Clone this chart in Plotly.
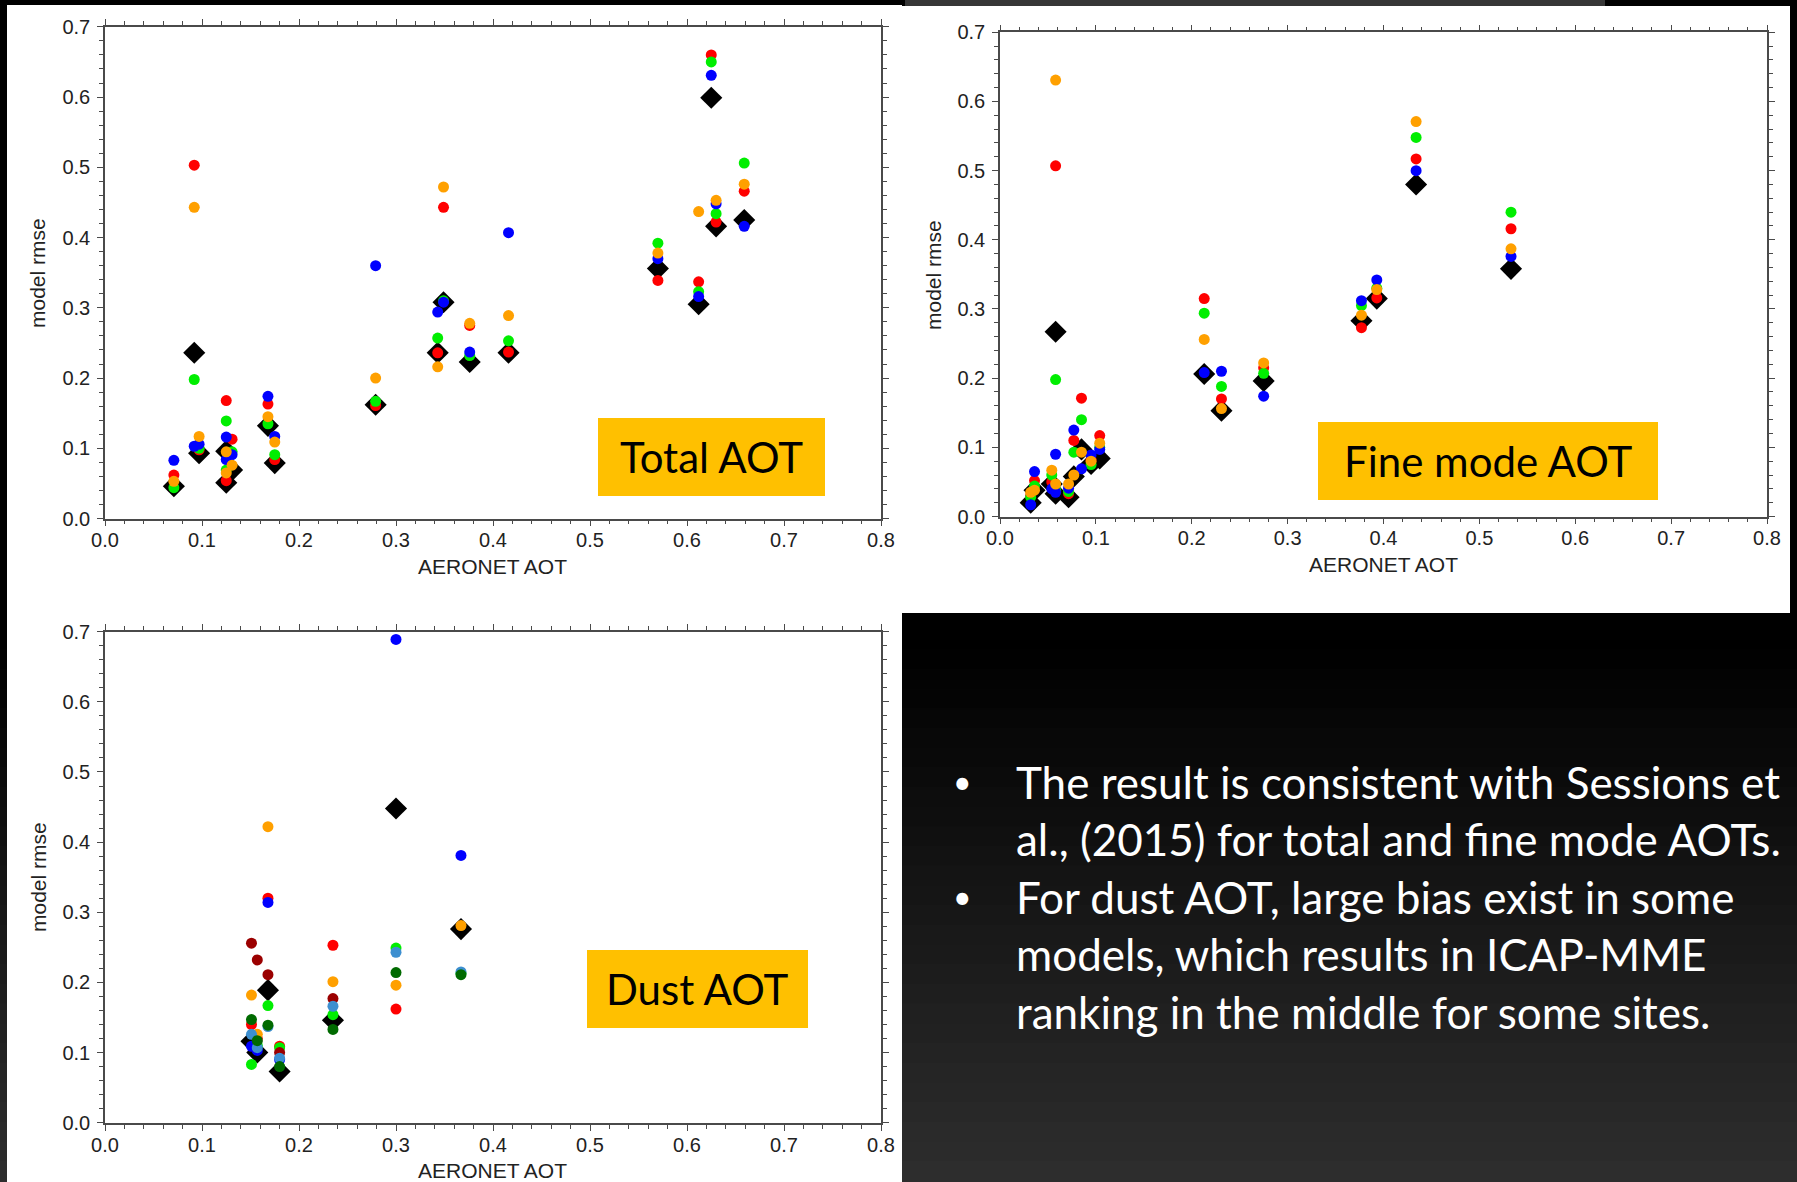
import plotly.graph_objects as go

W, H = 1797, 1182

# ---------------- Total AOT (site mean AERONET AOT vs model RMSE) ----------------
total_aeronet = [0.071, 0.092, 0.097, 0.125, 0.125, 0.131, 0.168, 0.175, 0.279,
                 0.343, 0.349, 0.376, 0.416, 0.570, 0.612, 0.625, 0.630, 0.659]
total_mme = [0.046, 0.236, 0.093, 0.096, 0.051, 0.069, 0.132, 0.079, 0.162,
             0.236, 0.308, 0.223, 0.236, 0.356, 0.305, 0.599, 0.416, 0.425]
total_red = [0.062, 0.503, 0.098, 0.168, 0.054, 0.113, 0.163, 0.084, 0.161,
             0.236, 0.443, 0.275, 0.237, 0.339, 0.337, 0.660, 0.422, 0.466]
total_green = [0.044, 0.198, 0.100, 0.139, 0.069, 0.095, 0.135, 0.091, 0.167,
               0.257, 0.310, 0.232, 0.253, 0.392, 0.323, 0.650, 0.434, 0.506]
total_blue = [0.083, 0.103, 0.106, 0.116, 0.084, 0.091, 0.174, 0.117, 0.360,
              0.294, 0.308, 0.237, 0.407, 0.370, 0.316, 0.631, 0.448, 0.416]
total_orange = [0.053, 0.443, 0.117, 0.095, 0.065, 0.076, 0.145, 0.109, 0.200,
                0.216, 0.472, 0.278, 0.289, 0.378, 0.437, None, 0.453, 0.476]

# ---------------- Fine mode AOT ----------------
fine_aeronet = [0.032, 0.036, 0.058, 0.054, 0.058, 0.0715, 0.077, 0.085, 0.095,
                0.104, 0.213, 0.231, 0.275, 0.377, 0.393, 0.434, 0.533]
fine_mme = [0.020, 0.038, 0.267, 0.047, 0.033, 0.028, 0.058, 0.097, 0.076,
            0.084, 0.206, 0.153, 0.196, 0.283, 0.315, 0.480, 0.358]
fine_red = [0.030, 0.052, 0.507, 0.050, 0.036, 0.033, 0.110, 0.171, 0.082,
            0.117, 0.315, 0.170, 0.215, 0.273, 0.316, 0.517, 0.416]
fine_green = [0.028, 0.044, 0.198, 0.060, 0.038, 0.036, 0.093, 0.140, 0.075,
              0.100, 0.294, 0.188, 0.207, 0.305, 0.330, 0.548, 0.440]
fine_blue = [0.017, 0.065, 0.090, 0.040, 0.035, 0.041, 0.125, 0.069, 0.089,
             0.097, 0.208, 0.210, 0.174, 0.312, 0.342, 0.500, 0.376]
fine_orange = [0.035, 0.038, 0.631, 0.067, 0.047, 0.047, 0.060, 0.093, 0.080,
               0.106, 0.256, 0.156, 0.222, 0.291, 0.328, 0.571, 0.387]

# ---------------- Dust AOT ----------------
dust_aeronet = [0.151, 0.157, 0.168, 0.180, 0.235, 0.300, 0.367]
dust_mme = [0.116, 0.100, 0.189, 0.073, 0.146, 0.448, 0.276]
dust_red = [0.140, 0.120, 0.320, 0.109, 0.253, 0.162, None]
dust_green = [0.083, 0.110, 0.167, 0.107, 0.154, 0.249, 0.213]
dust_blue = [0.109, 0.103, 0.314, 0.090, None, 0.689, 0.381]
dust_orange = [0.182, 0.126, 0.422, None, 0.201, 0.196, 0.281]
dust_darkred = [0.256, 0.232, 0.211, 0.100, 0.177, None, None]
dust_steelblue = [0.126, 0.107, 0.137, 0.092, 0.166, 0.243, 0.215]
dust_darkgreen = [0.147, 0.117, 0.139, 0.080, 0.133, 0.214, 0.211]

RED, GREEN, BLUE, ORANGE = "#ff0000", "#00ee00", "#0000ff", "#ffa000"
DARKRED, STEELBLUE, DARKGREEN = "#9b0000", "#3d8fd0", "#006a00"

panels = [
    ("x", "y", total_aeronet, total_mme,
     [(total_red, RED), (total_green, GREEN), (total_blue, BLUE), (total_orange, ORANGE)]),
    ("x2", "y2", fine_aeronet, fine_mme,
     [(fine_red, RED), (fine_green, GREEN), (fine_blue, BLUE), (fine_orange, ORANGE)]),
    ("x3", "y3", dust_aeronet, dust_mme,
     [(dust_red, RED), (dust_green, GREEN), (dust_orange, ORANGE), (dust_blue, BLUE),
      (dust_darkred, DARKRED), (dust_steelblue, STEELBLUE), (dust_darkgreen, DARKGREEN)]),
]


def px(v):
    return v / W


def py(v):
    return 1 - v / H


fig = go.Figure()

for xa, ya, xs, mme, models in panels:
    # ensemble (ICAP-MME) as black diamonds underneath the member models
    fig.add_trace(go.Scatter(x=xs, y=mme, mode="markers", xaxis=xa, yaxis=ya,
                             marker=dict(symbol="diamond", size=17, color="black"),
                             showlegend=False, hoverinfo="x+y"))
    for vals, col in models:
        fig.add_trace(go.Scatter(x=xs, y=vals, mode="markers", xaxis=xa, yaxis=ya,
                                 marker=dict(symbol="circle", size=11, color=col),
                                 showlegend=False, hoverinfo="x+y"))

# ---------------- background: dark slide with white figure panels ----------------
shapes = []
nb = 60
for i in range(nb):
    y0 = i * H / nb
    y1 = (i + 1) * H / nb
    t = max(0.0, ((y0 + y1) / 2 - 650) / (H - 650))
    g = int(round(46 * t))
    shapes.append(dict(type="rect", xref="paper", yref="paper", layer="below",
                       x0=0, x1=1, y0=max(0.0, py(y1)), y1=min(1.0, py(y0) + 0.001),
                       fillcolor=f"rgb({g},{g},{g})", line=dict(width=0)))
# thin grey strip along the top edge
shapes.append(dict(type="rect", xref="paper", yref="paper", layer="below",
                   x0=px(905), x1=px(1605), y0=py(6), y1=1,
                   fillcolor="#363636", line=dict(width=0)))
# white panels
shapes.append(dict(type="rect", xref="paper", yref="paper", layer="below",
                   x0=px(7), x1=px(902), y0=0, y1=py(5),
                   fillcolor="white", line=dict(width=0)))
shapes.append(dict(type="rect", xref="paper", yref="paper", layer="below",
                   x0=px(902), x1=px(1790), y0=py(613), y1=py(6),
                   fillcolor="white", line=dict(width=0)))
# yellow caption boxes
boxes = [(598, 825, 418, 496, "Total AOT"),
         (1318, 1658, 422, 500, "Fine mode AOT"),
         (587, 808, 950, 1028, "Dust AOT")]
annotations = []
for x0, x1, y0, y1, label in boxes:
    shapes.append(dict(type="rect", xref="paper", yref="paper", layer="above",
                       x0=px(x0), x1=px(x1), y0=py(y1), y1=py(y0),
                       fillcolor="#ffc000", line=dict(width=0)))
    annotations.append(dict(xref="paper", yref="paper", x=px((x0 + x1) / 2),
                            y=py((y0 + y1) / 2), text=label, showarrow=False,
                            xanchor="center", yanchor="middle",
                            font=dict(family="Lato", size=42, color="black")))

# axis titles
title_font = dict(family="Liberation Sans", size=21, color="#222")
for x, y in [(38, 273), (934, 275), (38, 877)]:
    annotations.append(dict(xref="paper", yref="paper", x=px(x), y=py(y),
                            text="model rmse", textangle=-90, showarrow=False,
                            xanchor="center", yanchor="middle", font=title_font))
for x, y in [(493, 566), (1383, 564), (493, 1170)]:
    annotations.append(dict(xref="paper", yref="paper", x=px(x), y=py(y),
                            text="AERONET AOT", showarrow=False,
                            xanchor="center", yanchor="middle", font=title_font))

# bullet text on the dark area
bullet_font = dict(family="Lato", size=44, color="white")
lines = [("•", "The result is consistent with Sessions et"),
         ("", "al., (2015) for total and fine mode AOTs."),
         ("•", "For dust AOT, large bias exist in some"),
         ("", "models, which results in ICAP-MME"),
         ("", "ranking in the middle for some sites.")]
for i, (b, txt) in enumerate(lines):
    yc = 782 + i * 57.4
    if b:
        annotations.append(dict(xref="paper", yref="paper", x=px(962), y=py(yc),
                                text=b, showarrow=False, xanchor="center",
                                yanchor="middle",
                                font=dict(family="Lato", size=32, color="white")))
    annotations.append(dict(xref="paper", yref="paper", x=px(1014), y=py(yc),
                            text=txt, showarrow=False, xanchor="left",
                            yanchor="middle", font=bullet_font))

tick_font = dict(family="Liberation Sans", size=20, color="#222")
axis_common = dict(showline=True, linecolor="#4a4a4a", linewidth=1.6,
                   mirror="allticks", ticks="outside", ticklen=6, tickwidth=1.4,
                   tickcolor="#4a4a4a", showgrid=False, zeroline=False,
                   automargin=False,
                   tickfont=tick_font, tickformat=".1f",
                   minor=dict(dtick=0.02, ticks="outside", ticklen=4,
                              tickwidth=1.2, tickcolor="#4a4a4a", showgrid=False))

xdoms = {"x": (105, 881), "x2": (1000, 1767), "x3": (105, 881)}
ydoms = {"y": (26.8, 518.6), "y2": (32.3, 516.5), "y3": (631.7, 1122.7)}

layout_axes = {}
for k, name in [("x", "xaxis"), ("x2", "xaxis2"), ("x3", "xaxis3")]:
    a, b = xdoms[k]
    layout_axes[name] = dict(axis_common, domain=[px(a), px(b)], range=[0, 0.8],
                             dtick=0.1, tick0=0, anchor=k.replace("x", "y"),
                             ticklabelstandoff=-3)
for k, name in [("y", "yaxis"), ("y2", "yaxis2"), ("y3", "yaxis3")]:
    a, b = ydoms[k]
    layout_axes[name] = dict(axis_common, domain=[py(b), py(a)], range=[0, 0.7],
                             dtick=0.1, tick0=0, anchor=k.replace("y", "x"),
                             ticklabelstandoff=3)

fig.update_layout(template="none", width=W, height=H,
                  margin=dict(l=0, r=0, t=0, b=0, pad=0, autoexpand=False),
                  paper_bgcolor="black", plot_bgcolor="rgba(0,0,0,0)",
                  shapes=shapes, annotations=annotations, showlegend=False,
                  **layout_axes)

fig.write_html("out.html")
